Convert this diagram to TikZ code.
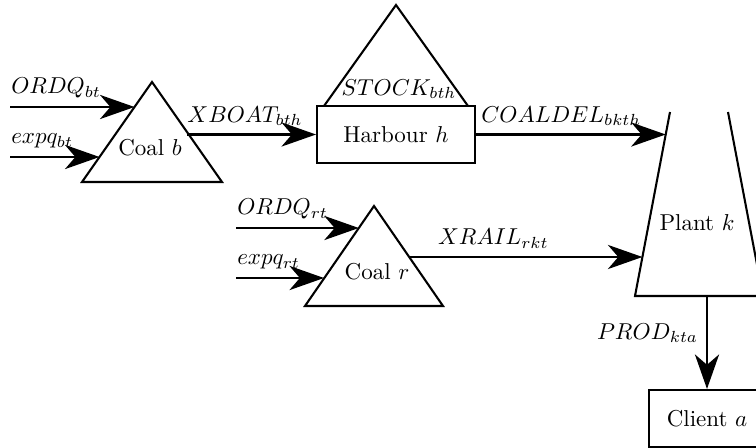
\documentclass[tikz,border=0pt]{standalone}
\usetikzlibrary{arrows.meta}
\begin{document}
\begin{tikzpicture}[
x=0.435pt,y=-0.435pt,
unit/.style={draw,line width=0.9pt,minimum height=24.8pt},
outline/.style={line width=0.9pt,line join=miter},
flow/.style={-{Stealth[length=15pt,width=10.5pt,inset=4.5pt]},line width=1.1pt},
msg/.style={midway,above},
inp/.style={pos=0,above right,inner xsep=0pt},
]
\useasboundingbox (0,0) rectangle (756,448);
\clip (0,0) rectangle (756,448);

% mines and stock
\coordinate (Bt) at (152,82);  \coordinate (Bl) at (82,182);  \coordinate (Br) at (222,182);
\coordinate (St) at (396,5);   \coordinate (Sl) at (324,106); \coordinate (Sr) at (468,106);
\coordinate (Rt) at (374,206); \coordinate (Rl) at (305,306); \coordinate (Rr) at (443,306);
\draw[outline] (Bl) -- (Bt) -- (Br) -- cycle;
\draw[outline] (Sl) -- (St) -- (Sr);
\draw[outline] (Rl) -- (Rt) -- (Rr) -- cycle;
\node (coalb) at (150,148) {Coal $b$};
\node (coalr) at (377,272) {Coal $r$};
\node (stock) at (399,89) {$STOCK_{bth}$};

% harbour, plant, client
\node[unit,minimum width=68.7pt] (harbour) at (396,134.5) {Harbour $h$};
\draw[outline] (670,112) -- (635,296) -- (763,296) -- (728,112);
\node (plant) at (697,223) {Plant $k$};
\node[unit,minimum width=50.5pt] (client) at (707,418.5) {Client $a$};

% end points on the shapes
\coordinate (ob0) at (10,107);  \coordinate (ob1) at (134.5,107);
\coordinate (eb0) at (10,157);  \coordinate (eb1) at (99.5,157);
\coordinate (or0) at (236,228); \coordinate (or1) at (358.8,228);
\coordinate (er0) at (236,278); \coordinate (er1) at (324,278);
\coordinate (xb) at (187,134.5);
\coordinate (xr) at (409.5,257);
\coordinate (kb) at (665.7,134.5);
\coordinate (kr) at (642.4,257);
\coordinate (kp) at (707,296);

\draw[flow] (ob0) -- (ob1) node[inp] {$ORDQ_{bt}$};
\draw[flow] (eb0) -- (eb1) node[inp] {$expq_{bt}$};
\draw[flow] (or0) -- (or1) node[inp] {$ORDQ_{rt}$};
\draw[flow] (er0) -- (er1) node[inp] {$expq_{rt}$};
\draw[flow] (xb) -- (harbour.west) node[msg,pos=0.45] {$XBOAT_{bth}$};
\draw[flow] (harbour.east) -- (kb) node[msg,pos=0.45] {$COALDEL_{bkth}$};
\draw[flow] (xr) -- (kr) node[msg,pos=0.36] {$XRAIL_{rkt}$};
\draw[flow] (kp) -- (client.north) node[midway,left,pos=0.4] {$PROD_{kta}$};

\end{tikzpicture}
\end{document}
